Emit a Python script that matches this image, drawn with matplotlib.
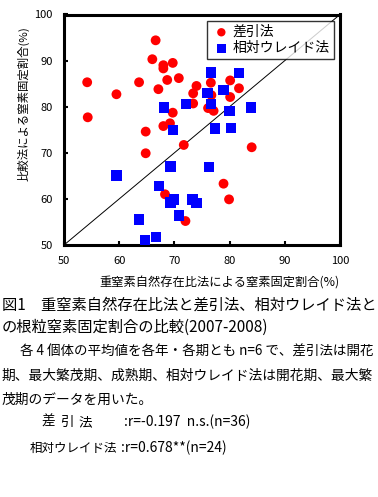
import matplotlib
matplotlib.use("Agg")
import matplotlib.pyplot as plt

plt.rcParams['font.family'] = ['Noto Sans CJK JP', 'DejaVu Sans']

# 差引法 (difference method)
diff_x = [66.6, 66.0, 68.0, 68.0, 69.7, 54.2, 63.6, 68.7, 70.8, 59.5, 67.1, 74.0,
          73.4, 73.4, 54.3, 69.7, 68.0, 69.2, 64.8, 76.6, 76.1, 77.1, 80.1, 81.7,
          80.1, 76.7, 64.8, 71.7, 68.3, 72.0, 84.0, 78.9, 79.9]
diff_y = [94.4, 90.3, 89.0, 88.3, 89.5, 85.3, 85.3, 85.8, 86.2, 82.7, 83.8, 84.5,
          82.9, 80.7, 77.7, 78.7, 75.8, 76.4, 74.6, 85.2, 79.7, 79.1, 85.7, 84.0,
          82.1, 82.5, 69.9, 71.7, 61.0, 55.2, 71.2, 63.3, 59.9]

# 相対ウレイド法 (relative ureide method)
ure_x = [68.1, 72.1, 69.7, 76.6, 81.7, 78.9, 76.0, 76.6, 80.0, 83.9, 77.3, 80.2,
         69.3, 59.5, 76.3, 67.2, 69.3, 69.9, 73.3, 74.0, 70.8, 63.6, 64.7, 66.7]
ure_y = [79.8, 80.6, 75.0, 87.4, 87.3, 83.6, 82.9, 80.6, 79.0, 79.8, 75.3, 75.4,
         67.0, 65.1, 66.9, 62.8, 59.2, 59.9, 59.9, 59.1, 56.4, 55.5, 51.0, 51.7]

ticks = [50, 60, 70, 80, 90, 100]
labels = ["差引法", "相対ウレイド法"]

W, H = 378, 497
fig = plt.figure(figsize=(W/100, H/100), dpi=100)
ax = fig.add_axes([64/W, 1-245/H, (340-64)/W, (245-14.5)/H])

ax.plot([50, 100], [50, 100], color='black', lw=0.7, zorder=1)
ax.scatter(diff_x, diff_y, s=50, marker='o', color='#FF0000', edgecolors='none',
           label=labels[0], zorder=3)
ax.scatter(ure_x, ure_y, s=55, marker='s', color='#0000FF', edgecolors='none',
           label=labels[1], zorder=3)

ax.set_xlim(50, 100)
ax.set_ylim(50, 100)
ax.set_xticks(ticks)
ax.set_yticks(ticks)
ax.tick_params(direction='in', length=3, width=1.5, labelsize=8, pad=8)
for s in ax.spines.values():
    s.set_linewidth(2.2)

leg = ax.legend(loc='upper right', fontsize=10, frameon=True, fancybox=False,
                edgecolor='black', borderpad=0.3, handletextpad=0.1,
                handlelength=1.4, labelspacing=0.15, borderaxespad=0.45,
                markerscale=0.85)
leg.get_frame().set_linewidth(1.0)


def t(x, y, s, size, **kw):
    fig.text(x/W, 1-y/H, s, fontsize=size, va='center', ha='left', **kw)


# axis titles
fig.text(219/W, 1-283/H, "重窒素自然存在比法による窒素固定割合(%)", fontsize=8.8,
         ha='center', va='center')
fig.text(23/W, 1-104/H, "比較法による窒素固定割合(%)", fontsize=8.2,
         ha='center', va='center', rotation=90)

# caption
t(2, 305, "図1　重窒素自然存在比法と差引法、相対ウレイド法と", 11)
t(2, 327, "の根粒窒素固定割合の比較(2007-2008)", 11)
t(20, 352, "各 4 個体の平均値を各年・各期とも n=6 で、差引法は開花", 9.75)
t(2, 376, "期、最大繁茂期、成熟期、相対ウレイド法は開花期、最大繁", 9.9)
t(2, 400, "茂期のデータを用いた。", 9.9)
for cx, ch in zip([41, 60, 79], "差引法"):
    t(cx, 422, ch, 9.8)
t(124, 422, ":r=-0.197  n.s.(n=36)", 10)
t(30, 448, "相対ウレイド法", 9)
t(121, 448, ":r=0.678**(n=24)", 10)

fig.savefig("out.png", dpi=100)
